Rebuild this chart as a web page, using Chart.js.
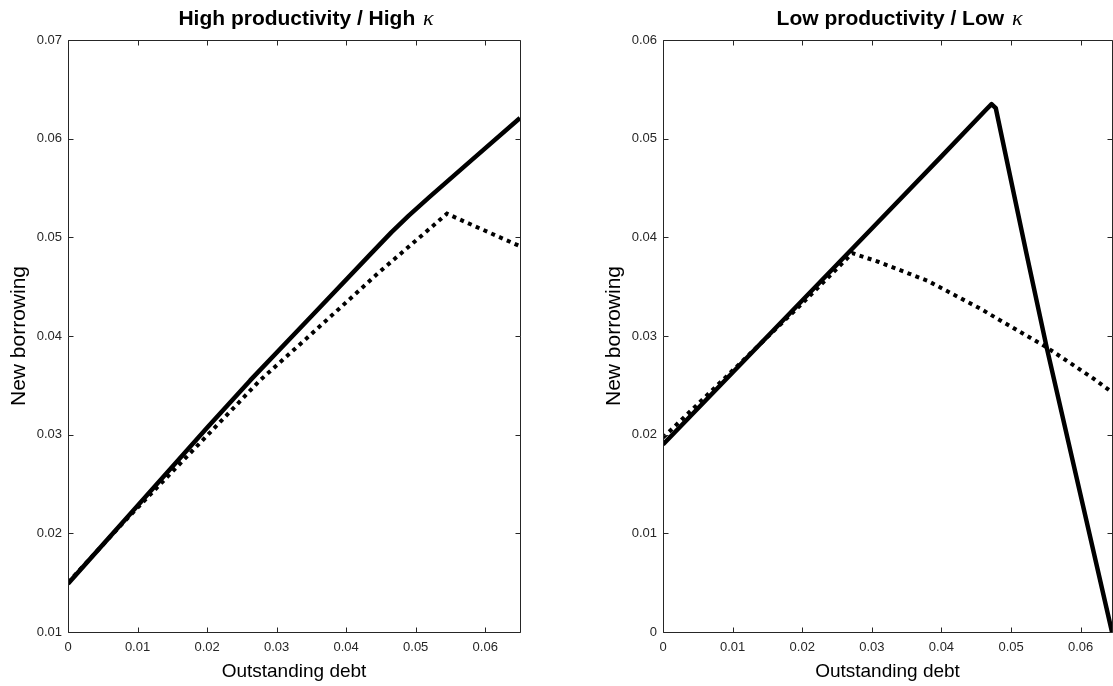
<!DOCTYPE html>
<html>
<head>
<meta charset="utf-8">
<script src="https://cdn.jsdelivr.net/npm/chart.js@4.4.1/dist/chart.umd.min.js"></script>
<style>
html, body { margin: 0; padding: 0; background: #fff; }
#wrap { position: relative; width: 1113px; height: 686px; overflow: hidden; }
canvas { position: absolute; top: 0; }
</style>
</head>
<body>
<div id="wrap">
  <canvas id="left" width="540" height="686" style="left:0"></canvas>
  <canvas id="right" width="518" height="686" style="left:595px"></canvas>
</div>
<script>
// tick values
var xTicks = [0, 0.01, 0.02, 0.03, 0.04, 0.05, 0.06];
var yTicksHigh = [0.01, 0.02, 0.03, 0.04, 0.05, 0.06, 0.07];
var yTicksLow = [0, 0.01, 0.02, 0.03, 0.04, 0.05, 0.06];

// left panel: high productivity / high kappa
var debtHighSolid = [0, 0.01, 0.02, 0.0262, 0.035, 0.0435, 0.0465, 0.049, 0.052, 0.058, 0.065];
var borrowHighSolid = [0.0149, 0.0228, 0.0307, 0.0355, 0.0420, 0.0483, 0.0505, 0.0522, 0.0541, 0.0578, 0.0621];
var debtHighDotted = [0, 0.0085, 0.02, 0.0276, 0.035, 0.0448, 0.0532, 0.0545, 0.057, 0.065];
var borrowHighDotted = [0.0150, 0.0215, 0.0299, 0.0355, 0.0402, 0.0465, 0.0516, 0.0524, 0.0516, 0.0491];

// right panel: low productivity / low kappa
var debtLowSolid = [0, 0.01, 0.02, 0.03, 0.04, 0.0465, 0.0472, 0.0478, 0.0522, 0.0551, 0.0645];
var borrowLowSolid = [0.0190, 0.0263, 0.0336, 0.0409, 0.0482, 0.0530, 0.0535, 0.0531, 0.0384, 0.0289, 0];
var debtLowDotted = [0, 0.01, 0.02, 0.0272, 0.031, 0.038, 0.0455, 0.055, 0.0618, 0.0645];
var borrowLowDotted = [0.0197, 0.0265, 0.0333, 0.0384, 0.0375, 0.0356, 0.0328, 0.0289, 0.0257, 0.0243];

var FONT = "'Liberation Sans', Arial, Helvetica, sans-serif";
var AXIS = '#262626';

function pairs(xs, ys) {
  return xs.map(function(x, i) { return {x: x, y: ys[i]}; });
}

function fmt(v) {
  return v === 0 ? '0' : v.toFixed(2);
}

// box with inward ticks on all four sides
var frame = {
  id: 'frame',
  afterDraw: function(chart) {
    var ctx = chart.ctx, a = chart.chartArea;
    var xs = chart.scales.x, ys = chart.scales.y;
    var len = 5;
    ctx.save();
    ctx.strokeStyle = AXIS;
    ctx.lineWidth = 1;
    ctx.beginPath();
    ctx.rect(a.left + 0.5, a.top + 0.5, a.right - a.left, a.bottom - a.top);
    xs.ticks.forEach(function(t) {
      var px = Math.round(xs.getPixelForValue(t.value)) + 0.5;
      ctx.moveTo(px, a.bottom + 0.5); ctx.lineTo(px, a.bottom + 0.5 - len);
      ctx.moveTo(px, a.top + 0.5); ctx.lineTo(px, a.top + 0.5 + len);
    });
    ys.ticks.forEach(function(t) {
      var py = Math.round(ys.getPixelForValue(t.value)) + 0.5;
      ctx.moveTo(a.left + 0.5, py); ctx.lineTo(a.left + 0.5 + len, py);
      ctx.moveTo(a.right + 0.5, py); ctx.lineTo(a.right + 0.5 - len, py);
    });
    ctx.stroke();
    ctx.restore();
  }
};

// bold title with a math-italic kappa
var panelTitle = {
  id: 'panelTitle',
  afterDraw: function(chart, args, opts) {
    var ctx = chart.ctx, a = chart.chartArea;
    var boldFont = 'bold 21px ' + FONT;
    var kFont = 'italic 22px "Liberation Serif", "DejaVu Serif", serif';
    ctx.save();
    ctx.fillStyle = '#000';
    ctx.textBaseline = 'alphabetic';
    ctx.textAlign = 'left';
    ctx.font = boldFont;
    var w1 = ctx.measureText(opts.text).width;
    ctx.font = kFont;
    var w2 = ctx.measureText('\u03ba').width;
    var x0 = (a.left + a.right) / 2 + 11 - (w1 + w2) / 2;
    ctx.font = boldFont;
    ctx.fillText(opts.text, x0, 25);
    ctx.font = kFont;
    ctx.fillText('\u03ba', x0 + w1 + 2, 25);
    ctx.restore();
  }
};

function makeConfig(solid, dotted, yTicks, yMin, yMax, xMax, padRight, title) {
  return {
    type: 'line',
    data: {
      datasets: [{
        data: solid,
        borderColor: '#000',
        borderWidth: 4.5,
        borderJoinStyle: 'round',
        pointRadius: 0,
        tension: 0,
        fill: false
      }, {
        data: dotted,
        borderColor: '#000',
        borderWidth: 4,
        borderDash: [4, 4.5],
        pointRadius: 0,
        tension: 0,
        fill: false
      }]
    },
    options: {
      responsive: false,
      animation: false,
      events: [],
      layout: { padding: { top: 40, right: padRight, left: 0, bottom: 0 } },
      plugins: {
        legend: { display: false },
        tooltip: { enabled: false },
        title: { display: false },
        panelTitle: { text: title }
      },
      scales: {
        x: {
          type: 'linear',
          min: 0,
          max: xMax,
          afterFit: function(s) { s.height = 54; },
          afterBuildTicks: function(s) { s.ticks = xTicks.map(function(v) { return {value: v}; }); },
          grid: { display: false, drawTicks: false },
          border: { display: false },
          ticks: {
            padding: 8, color: AXIS, autoSkip: false, maxRotation: 0,
            font: { family: FONT, size: 13 },
            callback: fmt
          },
          title: {
            display: true, text: 'Outstanding debt', color: '#000',
            font: { family: FONT, size: 19 },
            padding: { top: 0, bottom: 3 }
          }
        },
        y: {
          type: 'linear',
          min: yMin,
          max: yMax,
          afterFit: function(s) { s.width = 68; },
          afterBuildTicks: function(s) { s.ticks = yTicks.map(function(v) { return {value: v}; }); },
          grid: { display: false, drawTicks: false },
          border: { display: false },
          ticks: {
            padding: 6, color: AXIS, autoSkip: false,
            font: { family: FONT, size: 13 },
            callback: fmt
          },
          title: {
            display: true, text: 'New borrowing', color: '#000',
            font: { family: FONT, size: 21 },
            padding: { top: 7, bottom: 0 }
          }
        }
      }
    },
    plugins: [frame, panelTitle]
  };
}

new Chart(document.getElementById('left'), makeConfig(
  pairs(debtHighSolid, borrowHighSolid), pairs(debtHighDotted, borrowHighDotted),
  yTicksHigh, 0.01, 0.07, 0.065, 20, 'High productivity / High '));

new Chart(document.getElementById('right'), makeConfig(
  pairs(debtLowSolid, borrowLowSolid), pairs(debtLowDotted, borrowLowDotted),
  yTicksLow, 0, 0.06, 0.0645, 1, 'Low productivity / Low '));
</script>
</body>
</html>
